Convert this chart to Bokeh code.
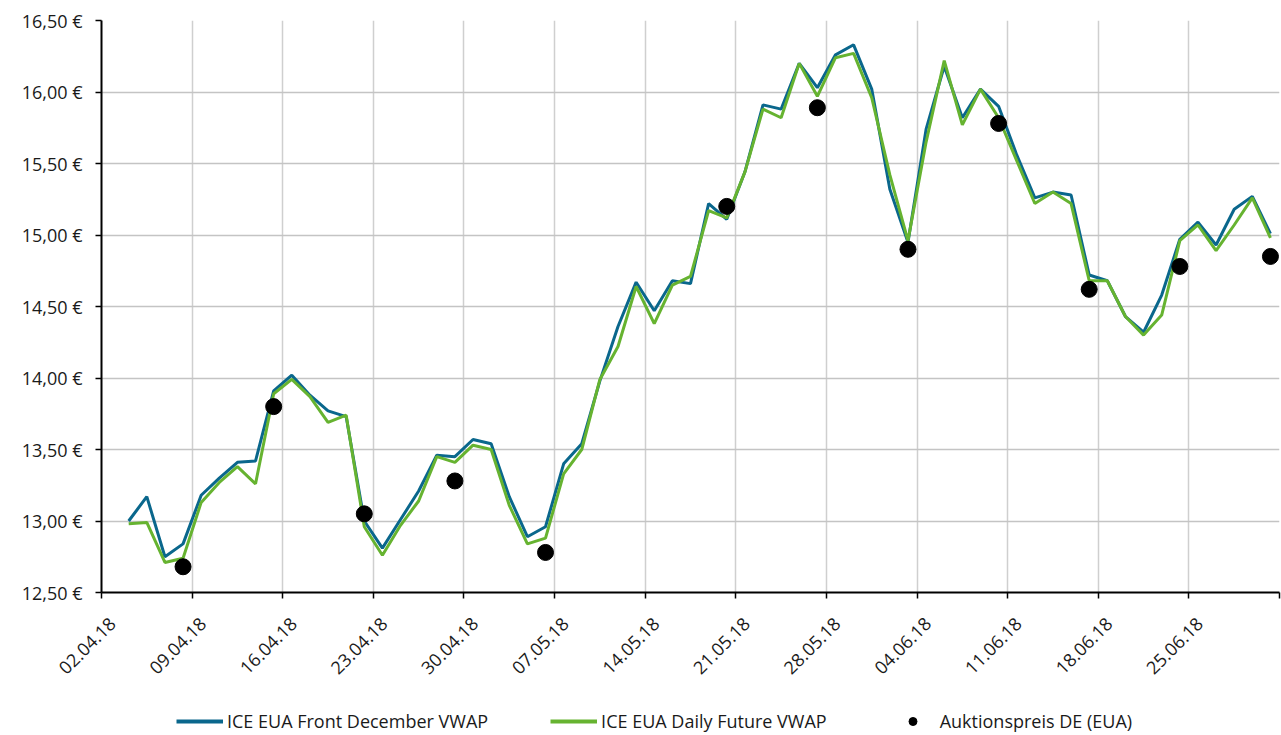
import math
import numpy as np
import pandas as pd
from bokeh.plotting import figure
from bokeh.layouts import column
from bokeh.models import FixedTicker, Legend, LegendItem, Range1d, ColumnDataSource, LinearAxis
from bokeh.embed import file_html
from bokeh.resources import INLINE

# ---------------- data ----------------
axis_start = "2018-04-02"
trading_days = [d.strftime("%Y-%m-%d") for d in pd.bdate_range("2018-04-03", "2018-06-29")]

front_dec = [13.00, 13.17, 12.75, 12.84, 13.18, 13.30, 13.41, 13.42, 13.91, 14.02,
             13.88, 13.77, 13.73, 13.00, 12.81, 13.01, 13.21, 13.46, 13.45, 13.57,
             13.54, 13.17, 12.89, 12.96, 13.40, 13.54, 13.98, 14.36, 14.67, 14.47,
             14.68, 14.66, 15.22, 15.11, 15.44, 15.91, 15.88, 16.20, 16.03, 16.26,
             16.33, 16.02, 15.32, 14.95, 15.74, 16.18, 15.82, 16.02, 15.90, 15.56,
             15.26, 15.30, 15.28, 14.72, 14.68, 14.43, 14.32, 14.58, 14.97, 15.09,
             14.93, 15.18, 15.27, 15.01]

daily_future = [12.98, 12.99, 12.71, 12.74, 13.13, 13.27, 13.38, 13.26, 13.89, 13.99,
                13.87, 13.69, 13.74, 12.96, 12.76, 12.97, 13.14, 13.45, 13.41, 13.53,
                13.50, 13.11, 12.84, 12.88, 13.33, 13.50, 13.99, 14.22, 14.64, 14.38,
                14.65, 14.71, 15.17, 15.12, 15.44, 15.88, 15.82, 16.20, 15.97, 16.24,
                16.27, 15.96, 15.42, 14.96, 15.65, 16.22, 15.77, 16.02, 15.82, 15.52,
                15.22, 15.30, 15.22, 14.68, 14.68, 14.43, 14.30, 14.44, 14.96, 15.07,
                14.89, 15.07, 15.26, 14.98]

auction_days = ["2018-04-06", "2018-04-13", "2018-04-20", "2018-04-27", "2018-05-04",
                "2018-05-18", "2018-05-25", "2018-06-01", "2018-06-08", "2018-06-15",
                "2018-06-22", "2018-06-29"]
auction_price = [12.68, 13.80, 13.05, 13.28, 12.78, 15.20, 15.89, 14.90, 15.78, 14.62,
                 14.78, 14.85]

x_tick_labels = ["02.04.18", "09.04.18", "16.04.18", "23.04.18", "30.04.18", "07.05.18",
                 "14.05.18", "21.05.18", "28.05.18", "04.06.18", "11.06.18", "18.06.18",
                 "25.06.18"]
y_ticks = [12.5, 13.0, 13.5, 14.0, 14.5, 15.0, 15.5, 16.0, 16.5]
y_tick_labels = ["12,50 €", "13,00 €", "13,50 €", "14,00 €", "14,50 €", "15,00 €",
                 "15,50 €", "16,00 €", "16,50 €"]
series_names = ["ICE EUA Front December VWAP", "ICE EUA Daily Future VWAP",
                "Auktionspreis DE (EUA)"]

# -------- positions on a trading-day axis (5 slots per week) --------
def slot(d):
    return float(np.busday_count(axis_start, d)) + 0.5

x_days = [slot(d) for d in trading_days]
x_auct = [slot(d) for d in auction_days]
n_slots = float(np.busday_count(axis_start, "2018-07-02"))

FONT = "Open Sans"
TXT = "#1a1a1a"
BLUE = "#0a678c"
GREEN = "#66b330"

p = figure(width=1281, height=700, output_backend="svg", toolbar_location=None,
           x_range=Range1d(0, n_slots), y_range=Range1d(12.5, 16.5),
           min_border_left=101, min_border_right=2, min_border_top=20, min_border_bottom=108)
p.outline_line_color = None
p.background_fill_color = "white"
p.border_fill_color = "white"

src = ColumnDataSource(dict(x=x_days, a=front_dec, b=daily_future))
p.line("x", "a", source=src, line_color=BLUE, line_width=3)
p.line("x", "b", source=src, line_color=GREEN, line_width=3)
p.scatter(x_auct, auction_price, size=16, fill_color="black", line_color="black")

grid_ticks = [i * 5 for i in range(14)]
label_ticks = [i * 5 + 0.6 for i in range(len(x_tick_labels))]

# main x axis: line + tick marks (labels not painted)
p.xaxis.ticker = FixedTicker(ticks=grid_ticks)
p.xaxis.major_label_text_font_size = "1px"
p.xaxis.major_label_text_color = None
p.xaxis.major_label_standoff = 0
# second x axis: rotated date labels only
lab_axis = LinearAxis(ticker=FixedTicker(ticks=label_ticks),
                      major_label_overrides={t: lab for t, lab in zip(label_ticks, x_tick_labels)},
                      major_label_orientation=math.pi / 4, axis_line_color=None,
                      major_tick_line_color=None, minor_tick_line_color=None,
                      major_tick_out=0, major_tick_in=0,
                      major_label_standoff=22, major_label_text_font=FONT,
                      major_label_text_font_size="18px", major_label_text_color=TXT)
p.add_layout(lab_axis, "below")

p.yaxis.ticker = FixedTicker(ticks=y_ticks)
p.yaxis.major_label_overrides = {t: lab for t, lab in zip(y_ticks, y_tick_labels)}
p.yaxis.major_label_text_font = FONT
p.yaxis.major_label_text_font_size = "18px"
p.yaxis.major_label_text_color = TXT
p.yaxis.major_label_standoff = 13

for ax in (p.xaxis[0], p.yaxis[0]):
    ax.axis_line_color = "black"
    ax.axis_line_width = 2
    ax.major_tick_line_color = "black"
    ax.major_tick_line_width = 1.5
    ax.major_tick_out = 6
    ax.major_tick_in = 0
    ax.minor_tick_line_color = None

p.xgrid.ticker = FixedTicker(ticks=grid_ticks)
p.ygrid.ticker = FixedTicker(ticks=y_ticks)
p.xgrid.grid_line_color = "#cfcfcf"
p.ygrid.grid_line_color = "#c4c4c4"
p.xgrid.grid_line_width = 1.5
p.ygrid.grid_line_width = 1.5

# ---------- legend strip (separate small figure) ----------
lg = figure(width=1281, height=35, output_backend="svg", toolbar_location=None,
            x_range=Range1d(0, 1), y_range=Range1d(0, 1), x_axis_type=None, y_axis_type=None,
            min_border=0)
lg.outline_line_color = None
lg.grid.visible = False
g1 = lg.line([-5, -4], [-5, -4], line_color=BLUE, line_width=4)
g2 = lg.line([-5, -4], [-5, -4], line_color=GREEN, line_width=4)
g3 = lg.scatter([-5], [-5], size=10, fill_color="black", line_color="black")
legend = Legend(items=[LegendItem(label=series_names[0], renderers=[g1]),
                       LegendItem(label=series_names[1], renderers=[g2]),
                       LegendItem(label=series_names[2], renderers=[g3])],
                orientation="horizontal", location=(75, 2), glyph_width=47, glyph_height=20,
                label_standoff=4, spacing=62, padding=0, margin=0,
                border_line_color=None, background_fill_alpha=0,
                label_text_font=FONT, label_text_font_size="18px", label_text_color=TXT)
lg.add_layout(legend)

open("out.html", "w").write(file_html(column(p, lg, spacing=0), INLINE))
